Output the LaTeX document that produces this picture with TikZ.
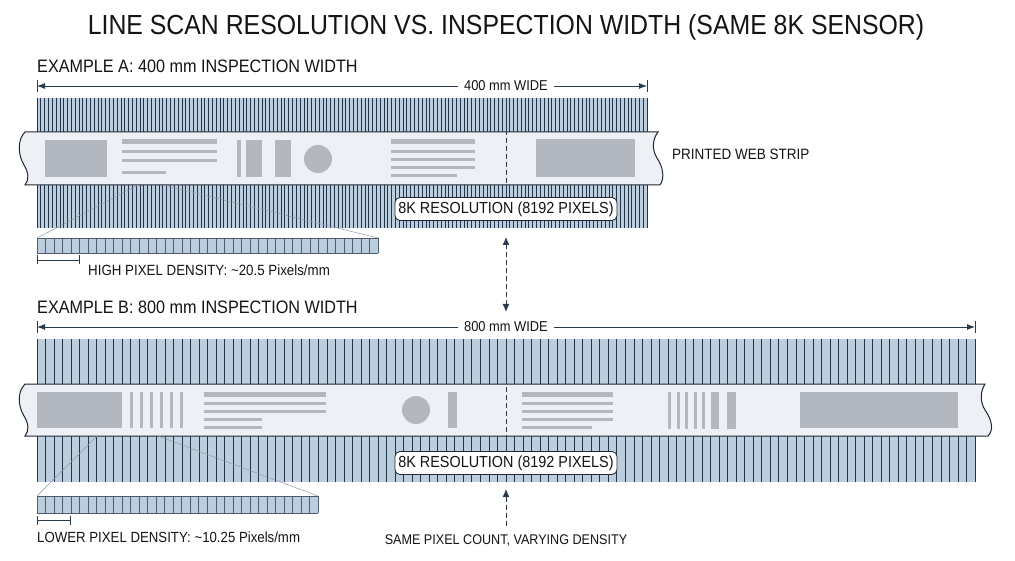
\documentclass[tikz,border=0pt]{standalone}
\usepackage{fontspec}
\setmainfont{Liberation Sans}[FakeStretch=0.9]
\usetikzlibrary{arrows.meta}
\definecolor{bandblue}{HTML}{BCCDDD}
\definecolor{pixdark}{HTML}{22334A}
\definecolor{stripfill}{HTML}{EDF0F4}
\definecolor{outline}{HTML}{1E2733}
\definecolor{contgray}{HTML}{B3B7BF}
\definecolor{navy}{HTML}{2B3B4E}
\definecolor{txt}{HTML}{141414}
\definecolor{zoomline}{HTML}{8E9AA8}
\tikzset{
  pixline/.style={draw=pixdark, line width=0.8pt},
  zpix/.style={draw=pixdark!80, line width=0.6pt},
  stripbody/.style={fill=stripfill, draw=outline, line width=1pt},
  blk/.style={fill=contgray},
  resbox/.style={draw=outline, fill=white, rounded corners=5pt, line width=0.8pt,
    minimum width=222pt, minimum height=23pt, inner sep=0pt, text=txt,
    font=\fontsize{16}{18}\selectfont},
  dimline/.style={draw=navy, line width=0.9pt, {Latex[length=8pt,width=6pt]}-{Latex[length=8pt,width=6pt]}},
  dimtick/.style={draw=navy, line width=0.9pt},
  dimtext/.style={fill=white, inner xsep=6pt, inner ysep=1pt, text=txt, font=\fontsize{14.3}{16}\selectfont},
  dashln/.style={draw=navy, line width=1pt, dash pattern=on 5pt off 3pt},
  zoomln/.style={draw=zoomline, line width=0.5pt},
  scalebar/.style={draw=navy, line width=0.9pt, {Bar[width=9pt]}-{Bar[width=9pt]}},
  lbl/.style={anchor=west, inner sep=0pt, text=txt},
}
\begin{document}
\begin{tikzpicture}[x=1pt,y=-1pt]
\useasboundingbox (0,0) rectangle (1015,561);
\fill[white] (0,0) rectangle (1015,561);

% Title
\node[text=txt, inner sep=0pt, font=\fontsize{27.6}{30}\selectfont] (title) at (506,27) {LINE SCAN RESOLUTION VS. INSPECTION WIDTH (SAME 8K SENSOR)};

%================ EXAMPLE A =================
\node[lbl, font=\fontsize{18}{20}\selectfont] (labA) at (37,66) {EXAMPLE A: 400 mm INSPECTION WIDTH};

\coordinate (dA1) at (37,86);
\coordinate (dA2) at (647,86);
\draw[dimline] (dA1) -- (dA2);
\draw[dimtick] ([yshift=6pt]dA1) -- ([yshift=-6pt]dA1);
\draw[dimtick] ([yshift=6pt]dA2) -- ([yshift=-6pt]dA2);
\node[dimtext] (wA) at (506,86) {400 mm WIDE};

% band A
\fill[bandblue] (37,98) rectangle (647,228);
\foreach \i in {0,...,160} \draw[pixline, line width=0.65pt] ({37+\i*3.8125},98) -- ++(0,130);

% strip A
\path[stripbody] (25,132) -- (658,132)
  .. controls (652,140) and (652,150) .. (657,158)
  .. controls (663,167) and (665,178) .. (660,185)
  -- (25,185)
  .. controls (29,180) and (29,173) .. (24,165)
  .. controls (18,155) and (17,140) .. (25,132) -- cycle;

% contents A
\fill[blk] (45,140) rectangle (107,177);
\fill[blk] (122,139) rectangle (217,144);
\fill[blk] (122,150) rectangle (217,153);
\fill[blk] (122,159) rectangle (217,162);
\fill[blk] (122,171) rectangle (166,174);
\fill[blk] (237,140) rectangle (241,177);
\fill[blk] (246,140) rectangle (262,177);
\fill[blk] (275,140) rectangle (291,177);
\fill[blk] (318,159) circle (14);
\fill[blk] (391,139) rectangle (475,144);
\fill[blk] (391,150) rectangle (475,153);
\fill[blk] (391,158) rectangle (475,161);
\fill[blk] (391,166) rectangle (475,169);
\fill[blk] (391,174) rectangle (457,177);
\fill[blk] (536,139) rectangle (635,177);

\node[lbl, font=\fontsize{15}{17}\selectfont] (webA) at (672,154) {PRINTED WEB STRIP};

% centre dashed line A
\node[resbox] (resA) at (506,209) {8K RESOLUTION (8192 PIXELS)};
\coordinate (cA) at (506,98);
\draw[dashln] (cA) -- (resA.north);

% zoom A
\coordinate (zA1) at (138,185);
\coordinate (zA2) at (163,185);
\coordinate (zsA1) at (37,238);
\coordinate (zsA2) at (378,238);
\draw[zoomln] (zA1) -- (zsA1);
\draw[zoomln] (zA2) -- (zsA2);
\fill[bandblue] (37,238) rectangle (378,253);
\foreach \i in {0,...,40} \draw[zpix] ({37+\i*8.525},238) -- ++(0,15);
\draw[zpix] (37,238) -- (378,238) (37,253) -- (378,253);

\coordinate (sA1) at (37,260);
\coordinate (sA2) at (80,260);
\draw[scalebar] (sA1) -- (sA2);
\node[lbl, font=\fontsize{14.8}{16}\selectfont] (densA) at (88,270) {HIGH PIXEL DENSITY: \textasciitilde20.5 Pixels/mm};

% connector between examples
\coordinate (mid1) at (506,237);
\coordinate (mid2) at (506,312);
\draw[dashln, {Latex[length=8pt,width=7pt]}-{Latex[length=8pt,width=7pt]}] (mid1) -- (mid2);

%================ EXAMPLE B =================
\node[lbl, font=\fontsize{18}{20}\selectfont] (labB) at (37,307) {EXAMPLE B: 800 mm INSPECTION WIDTH};

\coordinate (dB1) at (37,327);
\coordinate (dB2) at (975,327);
\draw[dimline] (dB1) -- (dB2);
\draw[dimtick] ([yshift=6pt]dB1) -- ([yshift=-6pt]dB1);
\draw[dimtick] ([yshift=6pt]dB2) -- ([yshift=-6pt]dB2);
\node[dimtext] (wB) at (506,327) {800 mm WIDE};

% band B
\fill[bandblue] (37,339) rectangle (975,482);
\foreach \i in {0,...,110} \draw[pixline] ({37+\i*8.5273},339) -- ++(0,143);

% strip B
\path[stripbody] (25,384) -- (985,384)
  .. controls (980,392) and (980,402) .. (985,410)
  .. controls (992,420) and (994,430) .. (988,436)
  -- (25,436)
  .. controls (29,431) and (29,424) .. (24,416)
  .. controls (18,406) and (17,392) .. (25,384) -- cycle;

% contents B
\fill[blk] (37,392) rectangle (122,428);
\foreach \i in {0,...,5} \fill[blk] ({130+\i*10},392) rectangle ++(3,36);
\fill[blk] (204,392) rectangle (326,397);
\fill[blk] (204,402) rectangle (326,405);
\fill[blk] (204,410) rectangle (326,413);
\fill[blk] (204,418) rectangle (262,421);
\fill[blk] (204,426) rectangle (262,429);
\fill[blk] (416,410) circle (14);
\fill[blk] (448,392) rectangle (457,428);
\fill[blk] (522,392) rectangle (613,397);
\fill[blk] (522,402) rectangle (613,405);
\fill[blk] (522,410) rectangle (613,413);
\fill[blk] (522,418) rectangle (613,421);
\fill[blk] (522,426) rectangle (592,429);
\foreach \x in {668,676.5,685,693.5,702} \fill[blk] (\x,392) rectangle ++(3,37);
\fill[blk] (711,392) rectangle (719,429);
\fill[blk] (727,392) rectangle (736,429);
\fill[blk] (800,392) rectangle (958,428);

\node[resbox] (resB) at (506,463) {8K RESOLUTION (8192 PIXELS)};
\coordinate (cB) at (506,339);
\draw[dashln] (cB) -- (resB.north);

% zoom B
\coordinate (zB1) at (97,436);
\coordinate (zB2) at (158,436);
\coordinate (zsB1) at (37,496);
\coordinate (zsB2) at (318,496);
\draw[zoomln] (zB1) -- (zsB1);
\draw[zoomln] (zB2) -- (zsB2);
\fill[bandblue] (37,496) rectangle (318,513);
\foreach \i in {0,...,33} \draw[zpix] ({37+\i*8.5152},496) -- ++(0,17);
\draw[zpix] (37,496) -- (318,496) (37,513) -- (318,513);

\coordinate (sB1) at (37,520);
\coordinate (sB2) at (71,520);
\draw[scalebar] (sB1) -- (sB2);
\node[lbl, font=\fontsize{14.7}{16}\selectfont] (densB) at (37,537) {LOWER PIXEL DENSITY: \textasciitilde10.25 Pixels/mm};

% bottom arrow and caption
\coordinate (up1) at (506,489);
\coordinate (up2) at (506,528);
\draw[dashln, {Latex[length=8pt,width=7pt]}-] (up1) -- (up2);
\node[text=txt, inner sep=0pt, font=\fontsize{14}{16}\selectfont] (same) at (506,541) {SAME PIXEL COUNT, VARYING DENSITY};
\end{tikzpicture}
\end{document}
